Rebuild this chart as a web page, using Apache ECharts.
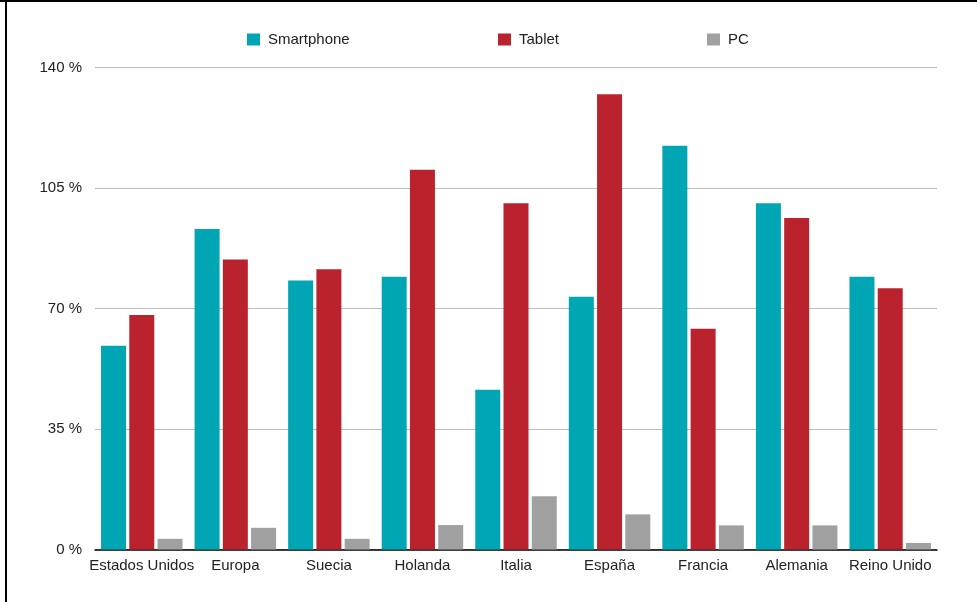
<!DOCTYPE html>
<html>
<head>
<meta charset="utf-8">
<script src="https://cdn.jsdelivr.net/npm/echarts@6/dist/echarts.min.js"></script>
<style>
html,body{margin:0;padding:0;background:#fff;}
#chart{width:977px;height:602px;}
</style>
</head>
<body>
<div id="chart"></div>
<script>
const categories = ['Estados Unidos','Europa','Suecia','Holanda','Italia','España','Francia','Alemania','Reino Unido'];
const smartphone = [59.2, 93.1, 78.1, 79.2, 46.4, 73.4, 117.3, 100.6, 79.2];
const tablet = [68.1, 84.2, 81.4, 110.3, 100.6, 132.2, 64.1, 96.3, 75.9];
const pc = [3.1, 6.3, 3.1, 7.1, 15.5, 10.2, 7.0, 7.0, 1.9];
const yTicks = [0, 35, 70, 105, 140];

const font = 'Liberation Sans, Arial, sans-serif';
const chart = echarts.init(document.getElementById('chart'), null, {renderer:'canvas'});
function leg(name, left){
  return {data:[name], left:left, top:27, itemWidth:13, itemHeight:12, itemGap:0,
    icon:'rect', textStyle:{fontFamily:font, fontSize:15, color:'#222', padding:[0,0,0,3]}};
}
chart.setOption({
  animation:false,
  backgroundColor:'#fff',
  textStyle:{fontFamily:font},
  legend:[leg('Smartphone',242), leg('Tablet',493), leg('PC',702)],
  grid:{left:95, right:40, top:67.5, bottom:52.5, containLabel:false},
  xAxis:{type:'category', data:categories,
    axisLine:{lineStyle:{color:'#000', width:1.5}},
    axisTick:{show:false},
    axisLabel:{fontFamily:font, fontSize:15, color:'#222', margin:9, interval:0}},
  yAxis:{type:'value', min:yTicks[0], max:yTicks[yTicks.length-1], interval:35,
    axisLine:{show:false}, axisTick:{show:false},
    splitLine:{lineStyle:{color:'#bdbdbd', width:1.2}},
    axisLabel:{fontFamily:font, fontSize:15, color:'#222', margin:13, formatter:'{value} %'}},
  series:[
    {name:'Smartphone', type:'bar', data:smartphone, barWidth:25, barGap:'13%', itemStyle:{color:'#00A6B4'}},
    {name:'Tablet', type:'bar', data:tablet, barWidth:25, barGap:'13%', itemStyle:{color:'#BA232D'}},
    {name:'PC', type:'bar', data:pc, barWidth:25, barGap:'13%', itemStyle:{color:'#A0A0A0'}}
  ],
  graphic:[
    {type:'line', shape:{x1:0, y1:1, x2:977, y2:1}, style:{stroke:'#000', lineWidth:2}},
    {type:'line', shape:{x1:6, y1:0, x2:6, y2:602}, style:{stroke:'#000', lineWidth:2}}
  ]
});
</script>
</body>
</html>
